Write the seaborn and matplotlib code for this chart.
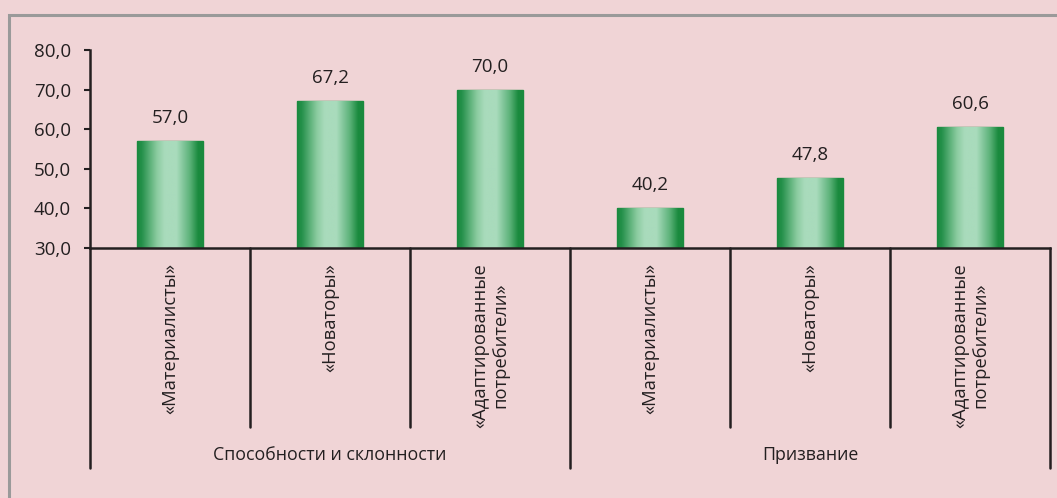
import numpy as np
import pandas as pd
import matplotlib
matplotlib.use("Agg")
import matplotlib.pyplot as plt
import seaborn as sns
from matplotlib.colors import LinearSegmentedColormap

# data
groups = ["Способности и склонности", "Призвание"]
categories = ["«Материалисты»", "«Новаторы»", "«Адаптированные\nпотребители»"]
values_abilities = [57.0, 67.2, 70.0]
values_calling = [40.2, 47.8, 60.6]
y_ticks = [30, 40, 50, 60, 70, 80]

BG = "#F0D4D6"
DARK = "#1A8A3E"
LIGHT = "#A9DBBC"
INK = "#231F20"

rows = []
for g, vals in zip(groups, [values_abilities, values_calling]):
    for c, v in zip(categories, vals):
        rows.append({"group": g, "category": c, "key": f"{g}|{c}", "value": v})
df = pd.DataFrame(rows)

sns.set_style("white")
plt.rcParams["font.family"] = ["Open Sans", "DejaVu Sans"]

W, H = 1057, 498
fig = plt.figure(figsize=(W / 100, H / 100), dpi=100, facecolor=BG)
# gray frame (runs off the right and bottom edges)
fig.patches.append(plt.Rectangle((9 / W, -0.1), 1.2, (H - 15) / H + 0.1,
                                 transform=fig.transFigure, fill=False,
                                 edgecolor="#9A9A9A", lw=2.2))
ax = fig.add_axes([90 / W, (H - 248) / H, 960 / W, 198 / H])
ax.set_facecolor(BG)

sns.barplot(data=df, x="key", y="value", order=list(df["key"]),
            color=DARK, width=0.41, ax=ax, edgecolor=DARK, linewidth=1.0)

ax.set_ylim(30, 80)
ax.set_xlim(-0.5, len(df) - 0.5)
ax.set_yticks(y_ticks)
ax.set_yticklabels([f"{t:.1f}".replace(".", ",") for t in y_ticks], fontsize=13.5, color=INK)
ax.set_xticks([])
ax.set_xlabel("")
ax.set_ylabel("")
for s in ["top", "right"]:
    ax.spines[s].set_visible(False)
for s in ["left", "bottom"]:
    ax.spines[s].set_color(INK)
    ax.spines[s].set_linewidth(1.8)
ax.tick_params(axis="y", length=4.5, width=1.5, color=INK, pad=9, left=True)

# cylinder gradient on each bar
cmap = LinearSegmentedColormap.from_list(
    "cyl", [(0, DARK), (0.07, "#24904A"), (0.3, "#8ACB9F"), (0.42, LIGHT),
            (0.6, LIGHT), (0.8, "#5DB37A"), (0.93, DARK), (1, DARK)])
grad = np.linspace(0, 1, 256).reshape(1, -1)
for p, v in zip(ax.patches, df["value"]):
    x0, w = p.get_x(), p.get_width()
    im = ax.imshow(grad, cmap=cmap, aspect="auto", extent=(x0, x0 + w, 30, v),
                   zorder=p.get_zorder() + 0.1)
    im.set_clip_path(p)
    ax.annotate(f"{v:.1f}".replace(".", ","), (x0 + w / 2, v), xytext=(0, 16.5),
                textcoords="offset points", ha="center", va="center",
                fontsize=13.5, color=INK)
ax.set_xlim(-0.5, len(df) - 0.5)
ax.set_ylim(30, 80)

# category separators and labels below the axis
tr = ax.get_xaxis_transform()
n = len(df)
for i in range(n + 1):
    bottom = -1.11 if i % 3 == 0 else -0.905
    ax.plot([i - 0.5, i - 0.5], [0, bottom], transform=tr, clip_on=False,
            color=INK, lw=1.8)
for i, c in enumerate(df["category"]):
    ax.text(i, -0.075, c, transform=tr, rotation=90, ha="center", va="top",
            multialignment="center", fontsize=13.2, color=INK, linespacing=1.15)
for j, g in enumerate(groups):
    ax.text(3 * j + 1, -1.045, g, transform=tr, ha="center", va="center",
            fontsize=12.8, color=INK)

fig.savefig("out.png", dpi=100, facecolor=BG)
